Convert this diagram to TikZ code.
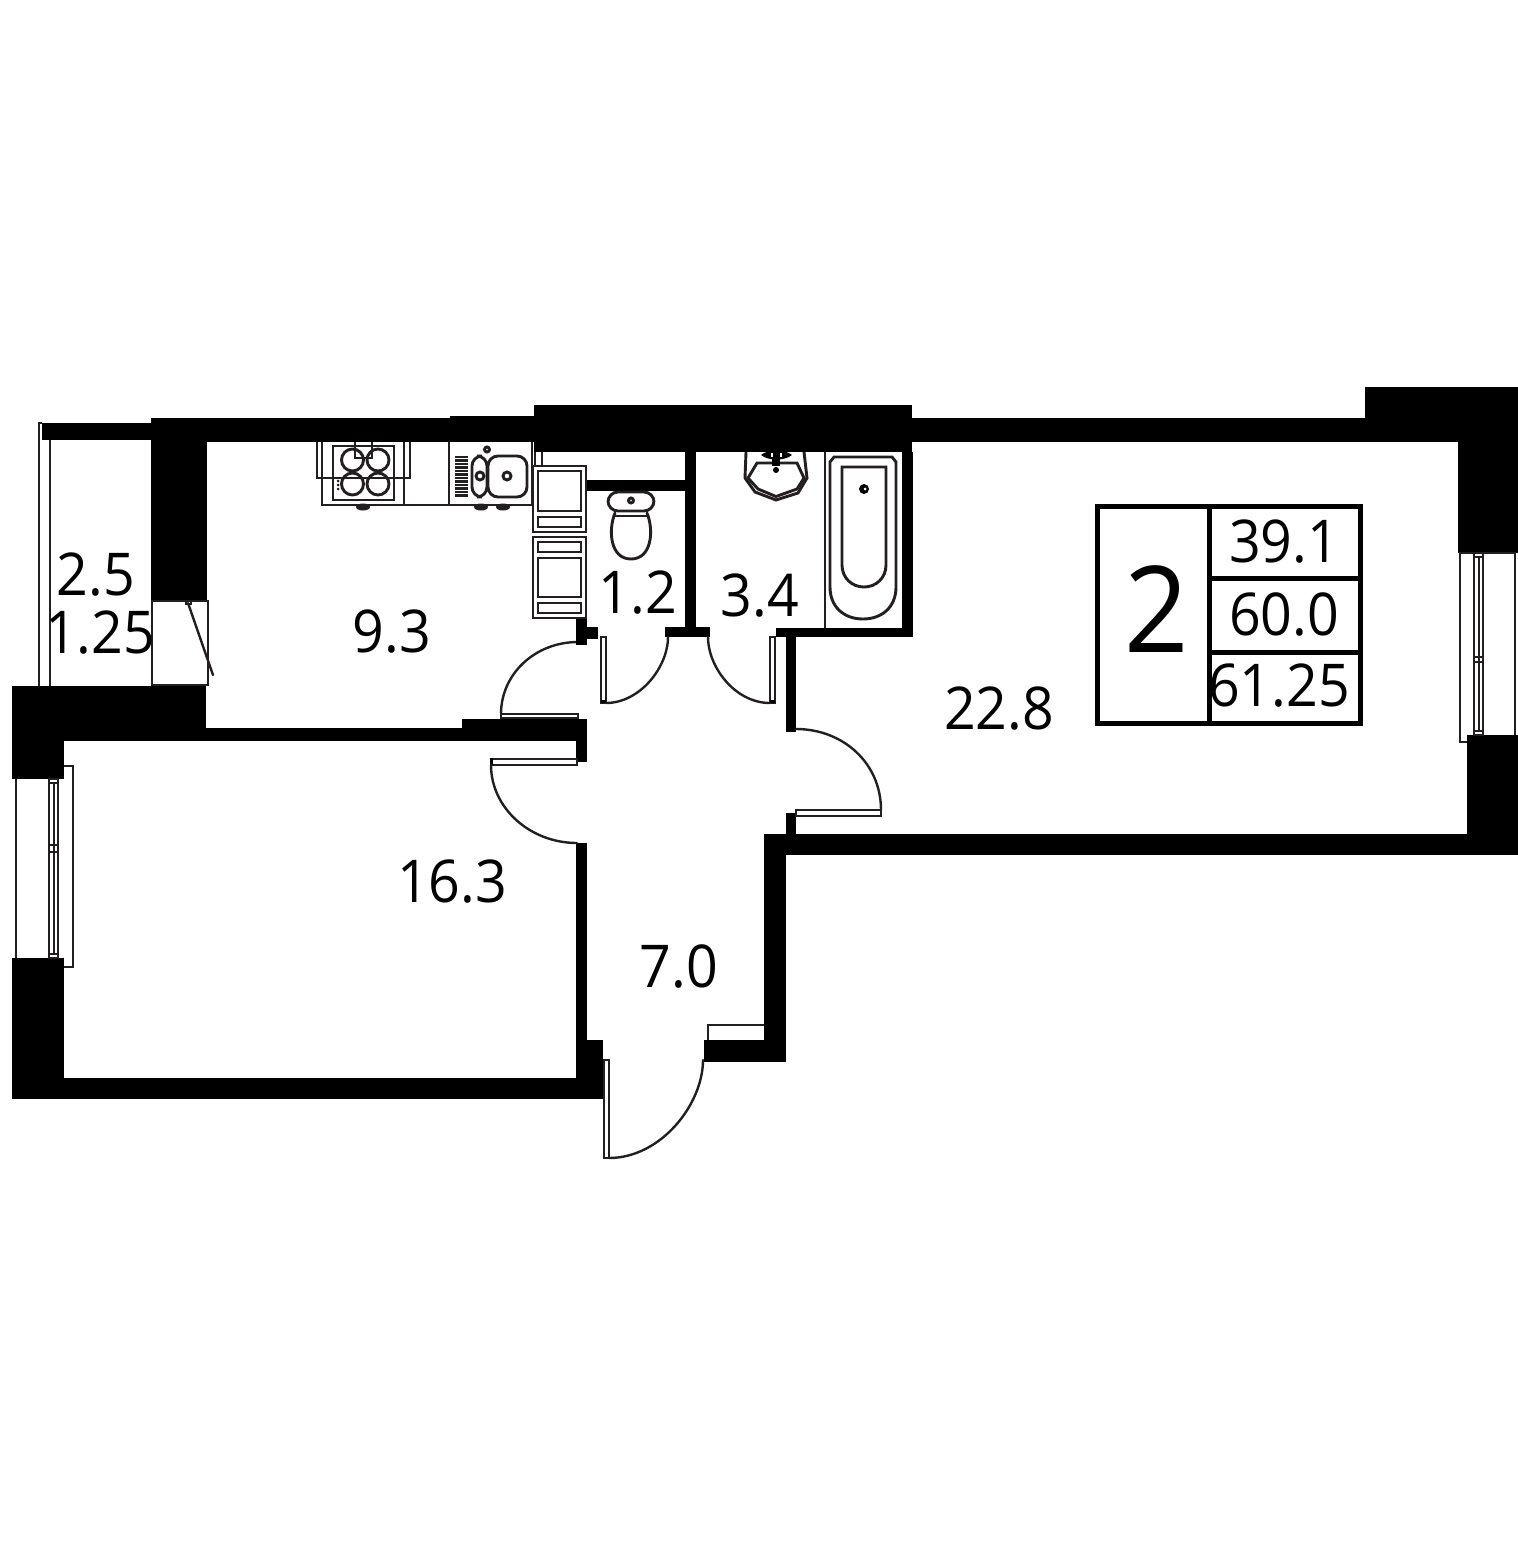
\documentclass[tikz,border=0pt]{standalone}
\usepackage{fontspec}
\setmainfont[FakeStretch=0.94]{Open Sans}
\definecolor{ink}{HTML}{231F20}
\tikzset{
  wall/.style={fill=black,draw=none},
  fine/.style={draw=ink,line width=1.05pt,fill=none},
  fixture/.style={draw=ink,line width=1.45pt,fill=none},
  thin/.style={draw=ink,line width=1pt,fill=none},
  swing/.style={draw=ink,line width=1.2pt,line cap=round},
  area/.style={font=\fontsize{29.5}{32}\selectfont,anchor=base,inner sep=0pt,text=black},
  rooms/.style={font=\fontsize{60}{62}\selectfont,anchor=base,inner sep=0pt,text=black},
  frame/.style={draw=black,line width=2.5pt,fill=none}
}
\begin{document}
\begin{tikzpicture}[x=0.5pt,y=-0.5pt]
\useasboundingbox (0,0) rectangle (1518,1562);
\fill[white] (0,0) rectangle (1518,1562);
% load-bearing walls
\fill[wall] (42,423) rectangle (152,440);
\fill[wall] (151,418) rectangle (207,601);
\fill[wall] (151,418) rectangle (535,442);
\fill[wall] (450,416) rectangle (535,442);
\fill[wall] (534,405) rectangle (912,452);
\fill[wall] (912,418) rectangle (1365,442);
\fill[wall] (1365,387) rectangle (1518,442);
\fill[wall] (1458,387) rectangle (1518,553);
\fill[wall] (1467,735) rectangle (1518,855);
\fill[wall] (764,834) rectangle (1518,855);
\fill[wall] (764,834) rectangle (786,1062);
\fill[wall] (704,1040) rectangle (786,1062);
\fill[wall] (12,1078) rectangle (603,1099);
\fill[wall] (576,1040) rectangle (603,1099);
\fill[wall] (576,843) rectangle (587,1040);
\fill[wall] (12,958) rectangle (64,1099);
\fill[wall] (12,686) rectangle (64,779);
\fill[wall] (12,686) rectangle (206,741);
\fill[wall] (206,728) rectangle (462,741);
\fill[wall] (462,719) rectangle (587,741);
\fill[wall] (576,719) rectangle (587,762);
% partitions
\fill[wall] (576,619) rectangle (587,645);
\fill[wall] (576,627) rectangle (598,639);
\fill[wall] (685,452) rectangle (696,630);
\fill[wall] (665,627) rectangle (710,637);
\fill[wall] (586,480) rectangle (685,491);
\fill[wall] (902,452) rectangle (913,637);
\fill[wall] (776,628) rectangle (913,637);
\fill[wall] (786,628) rectangle (796,732);
\fill[wall] (786,813) rectangle (796,834);
% balcony
\draw[fine] (39,686) -- (39,423) -- (42,423);
\draw[fine] (50,440) -- (50,686);
\draw[fine] (152,601) rectangle (208,685);
\draw[swing] (188,603) -- (213,675);
\draw[thin] (186,601) rectangle (191,604);
% right window
\draw[fine] (1467,742) -- (1460,742) -- (1460,553) -- (1515,553) -- (1515,735);
\draw[fine] (1474,553) rectangle (1483,735);
\draw[thin] (1478.5,557) -- (1478.5,731);
\draw[fine] (1474,557) -- (1483,557);
\draw[fine] (1474,731) -- (1483,731);
\draw[fine] (1474,657) rectangle (1483,662);
% left window
\draw[fine] (16,779) -- (16,958);
\draw[fine] (49,779) rectangle (58,958);
\draw[thin] (53.5,783) -- (53.5,954);
\draw[fine] (49,783) -- (58,783);
\draw[fine] (49,954) -- (58,954);
\draw[fine] (49,845) rectangle (58,852);
\draw[fine] (64,766) -- (73,766) -- (73,967) -- (64,967);
% niche at entrance
\draw[fine] (708,1040) -- (708,1025) -- (764,1025);
% kitchen counter
\draw[fixture] (322,442) -- (322,505) -- (532,505) -- (532,442);
\draw[fixture] (404,442) -- (404,505);
\draw[fixture] (449,442) -- (449,505);
\draw[fixture] (317,442) -- (317,478) -- (410,478) -- (410,442);
\draw[fixture] (333,446) rectangle (394,500);
\draw[fixture] (352.5,460) circle[radius=11];
\draw[fixture] (378,460) circle[radius=11];
\draw[fixture] (352.5,484) circle[radius=11];
\draw[fixture] (378,484) circle[radius=11];
\draw[fixture] (355,442) -- (355,458) -- (372,458) -- (372,442);
\foreach \yy in {481,485,489} {\fill[ink] (338,\yy) circle[radius=1.5];}
\fill[ink] (363,507) ellipse[x radius=7,y radius=3.5];
\fill[ink] (481,507) ellipse[x radius=7,y radius=3.5];
\fill[ink] (503,507) ellipse[x radius=7,y radius=3.5];
% sink
\foreach \yy in {457,460.5,...,497} {\draw[ink,line width=1.3pt] (455,\yy) -- (468,\yy);}
\draw[fixture,rounded corners=5] (472,456) rectangle (487,497);
\draw[fixture,rounded corners=5] (488,456) rectangle (527,497);
\draw[fixture] (480,476) circle[radius=4];
\draw[fixture] (507,476) circle[radius=4];
\draw[fixture] (487,449.5) circle[radius=2.5];
% cabinets
\draw[fixture] (535,452) -- (535,466);
\draw[fixture] (542,452) -- (542,466);
\draw[fixture] (533,466) rectangle (586,532);
\draw[fixture] (538,471) rectangle (581,511);
\draw[fixture] (538,517) rectangle (581,527);
\draw[fixture] (533,537) rectangle (586,618);
\draw[fixture] (538,542) rectangle (581,552);
\draw[fixture] (538,558) rectangle (581,597);
\draw[fixture] (538,603) rectangle (581,613);
% toilet
\draw[fixture,rounded corners=5] (608,492) rectangle (654,511);
\draw[fixture] (631,500.5) circle[radius=2.5];
\draw[fixture] (615,511) -- (615,516) -- (647,516) -- (647,511);
\draw[fixture] (615,513) .. controls (608,530) and (610,559) .. (631,559)
  .. controls (652,559) and (654,530) .. (647,513);
% basin
\draw[fixture] (746,452) -- (745,478) -- (755,492) -- (776,500) -- (798,493) -- (807,478) -- (804,452);
\draw[fixture] (757,463) -- (748,478) -- (758,489) -- (776,496.5) -- (797,489) -- (804,478) -- (797,463) -- cycle;
\fill[wall] (761,455) .. controls (768,449) and (785,449) .. (792,455) .. controls (785,461) and (768,461) .. (761,455) -- cycle;
\fill[wall] (772,452) rectangle (780,466);
\fill[white] (771,453) rectangle (773,457);
\fill[white] (780,453) rectangle (782,457);
\fill[wall] (776,470) circle[radius=3];
% bath
\draw[fine] (825,452) -- (825,628);
\draw[fixture] (830,587) -- (830,462) -- (834,457) -- (892,457) -- (896,462) -- (896,587)
  .. controls (896,607) and (882,619) .. (863,619) .. controls (844,619) and (830,607) .. (830,587);
\draw[fixture] (842,467) -- (886,467) -- (886,565) .. controls (886,578) and (876,587) .. (864,587)
  .. controls (852,587) and (842,578) .. (842,565) -- cycle;
\fill[wall] (864,489) circle[radius=5];
\fill[white] (865,489) circle[radius=1.5];
% doors
\draw[thin] (501,714) rectangle (578,718);
\draw[swing] (501,714) .. controls (501,674) and (535,642) .. (578,642);
\fill[wall] (576,638) rectangle (586,645);
\draw[thin] (601,637) rectangle (606,703);
\draw[swing] (606,703) .. controls (640,703) and (668,667) .. (668,637);
\fill[wall] (601,700) rectangle (606,703);
\draw[thin] (770,637) rectangle (775,703);
\draw[swing] (770,703) .. controls (735,703) and (708,667) .. (708,637);
\fill[wall] (770,700) rectangle (775,703);
\draw[thin] (796,810) rectangle (881,816);
\draw[swing] (796,729) .. controls (843,729) and (881,763) .. (881,810);
\draw[thin] (491,759) rectangle (577,765);
\fill[wall] (490,758) rectangle (493,765);
\draw[swing] (491,765) .. controls (491,808) and (530,843) .. (577,843);
\draw[thin] (604,1060) rectangle (609,1158);
\draw[swing] (609,1158) .. controls (661,1158) and (703,1104) .. (703,1060);
% summary table
\draw[frame] (1097.5,506.5) rectangle (1360,723);
\draw[frame] (1209,506.5) -- (1209,723);
\draw[frame] (1209,578) -- (1360,578);
\draw[frame] (1209,652) -- (1360,652);
\node[rooms] (rooms) at (1157,652) {2};
\node[area] (living) at (1284,562) {39.1};
\node[area] (total) at (1284,635) {60.0};
\node[area] (totalb) at (1279,706) {61.25};
% room areas
\node[area] (balconya) at (96,595) {2.5};
\node[area] (balconyb) at (100,653) {1.25};
\node[area] (kitchen) at (392,652) {9.3};
\node[area] (wc) at (638,613) {1.2};
\node[area] (bathroom) at (760,616) {3.4};
\node[area] (roomb) at (999,729) {22.8};
\node[area] (rooma) at (452,902) {16.3};
\node[area] (hall) at (679,987) {7.0};
\end{tikzpicture}
\end{document}
